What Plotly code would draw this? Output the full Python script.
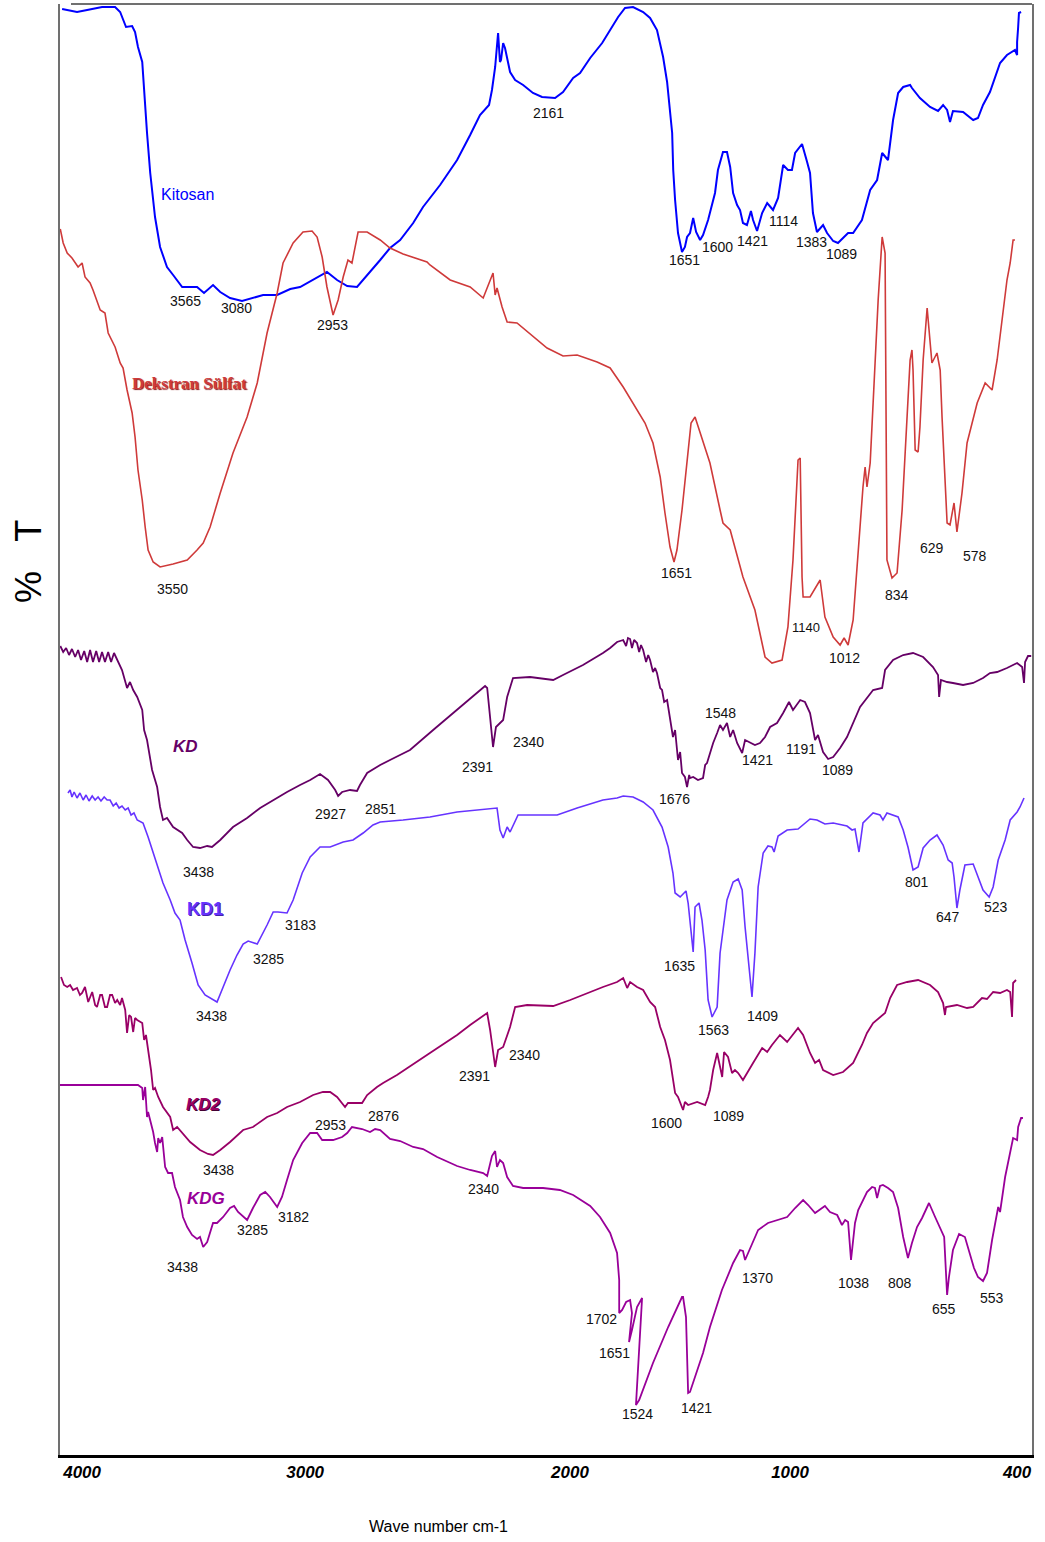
import plotly.graph_objects as go

# ---------------- data (wavenumber cm-1, %T offset units) ----------------
kitosan = [(4005,144.6),(3949,144.3),(3911,144.5),(3855,144.8),(3806,144.8),(3787,144.3),(3765,142.8),(3742,142.9),
    (3731,142.3),(3720,140.8),(3704,139.3),(3697,136.2),(3686,132.2),(3674,128.2),(3656,123.8),(3637,120.8),(3611,118.8),
    (3588,118.0),(3554,116.8),(3524,116.8),(3498,116.8),(3472,116.2),(3438,117.0),(3411,116.3),(3374,115.7),(3329,115.4),
    (3288,115.7),(3250,116.0),(3197,116.0),(3148,116.6),(3111,116.8),(3010,118.3),(2972,117.5),(2934,116.9),(2897,116.8),
    (2874,117.5),(2848,118.3),(2810,119.5),(2773,120.7),(2735,121.5),(2686,123.2),(2649,124.8),(2585,127.0),(2521,129.5),
    (2472,132.0),(2435,134.0),(2401,135.0),(2390,136.5),(2378,138.8),(2367,142.2),(2360,139.3),(2356,139.5),(2348,141.2),
    (2341,140.7),(2322,138.3),(2303,137.5),(2273,137.0),(2236,136.2),(2202,135.8),(2153,135.7),(2123,136.3),(2085,137.7),
    (2059,138.2),(2021,139.7),(1976,141.2),(1946,142.5),(1916,143.8),(1890,144.7),(1860,144.8),(1822,144.3),(1796,143.7),
    (1770,142.5),(1747,139.8),(1732,137.3),(1713,132.2),(1709,128.5),(1702,125.5),(1691,122.2),(1676,120.3),(1665,120.8),
    (1657,121.8),(1646,122.2),(1634,123.7),(1623,122.3),(1608,121.5),(1597,122.0),(1578,123.5),(1552,126.2),(1541,128.5),
    (1522,130.3),(1507,130.3),(1495,128.8),(1484,126.2),(1469,125.0),(1458,124.5),(1447,123.2),(1432,123.0),(1417,124.4),
    (1409,123.5),(1394,122.4),(1375,124.2),(1356,125.2),(1334,124.5),(1315,125.7),(1296,129.0),(1278,128.5),(1263,128.5),
    (1251,130.2),(1225,131.1),(1206,129.3),(1195,128.2),(1184,124.2),(1169,122.3),(1146,123.0),(1131,122.2),(1108,121.4),
    (1090,121.2),(1071,121.7),(1052,122.2),(1033,122.2),(1000,123.5),(969,126.5),(943,127.5),(924,130.2),(902,129.5),
    (883,133.5),(864,136.2),(845,136.8),(819,137.0),(812,136.7),(782,135.7),(744,134.8),(714,134.4),(695,135.0),(680,134.5),
    (669,133.3),(658,134.4),(620,134.3),(605,134.0),(582,133.5),(564,133.7),(545,135.0),(519,136.3),(500,137.8),(481,139.2),
    (455,140.0),(425,140.5),(417,140.0),(417,141.3),(413,142.8),(410,144.2),(402,144.3)]

dekstran = [(4012,122.6),(4001,121.2),(3986,120.2),(3968,119.7),(3945,118.8),(3930,119.2),(3919,117.8),(3900,117.2),
    (3889,116.5),(3862,114.5),(3844,114.2),(3832,112.2),(3806,110.8),(3787,109.2),(3776,108.7),(3761,106.5),(3742,104.2),
    (3731,101.8),(3720,98.5),(3704,95.5),(3693,92.8),(3682,90.5),(3663,89.3),(3637,88.8),(3588,89.1),(3535,89.5),(3498,90.5),
    (3475,91.2),(3449,92.8),(3411,96.2),(3363,100.2),(3310,103.8),(3272,107.2),(3254,109.5),(3235,112.2),(3197,116.2),
    (3175,119.2),(3137,121.2),(3100,122.3),(3066,122.4),(3047,121.8),(3028,119.8),(3010,116.8),(2987,114.0),(2968,115.5),
    (2949,117.8),(2931,119.5),(2916,119.2),(2893,122.3),(2859,122.3),(2810,121.5),(2773,120.7),(2724,120.1),(2634,119.3),
    (2623,119.0),(2547,117.5),(2472,116.8),(2423,115.7),(2386,118.2),(2378,116.0),(2371,116.7),(2352,114.8),(2333,113.3),
    (2296,113.2),(2221,111.5),(2183,110.7),(2123,109.9),(2070,110.0),(1995,109.3),(1946,108.7),(1897,106.8),(1845,104.5),
    (1815,103.2),(1785,101.2),(1758,97.8),(1740,94.2),(1721,90.8),(1706,89.3),(1695,90.5),(1676,94.5),(1657,99.5),
    (1642,103.2),(1627,103.8),(1597,101.2),(1571,99.2),(1533,94.5),(1522,93.2),(1495,92.5),(1447,87.8),(1402,84.5),
    (1364,79.8),(1338,79.2),(1300,79.5),(1278,82.8),(1259,89.5),(1240,99.5),(1232,99.7),(1225,87.8),(1221,85.8),(1195,85.8),
    (1157,87.5),(1139,83.8),(1108,81.8),(1082,81.0),(1067,81.7),(1052,81.0),(1033,83.5),(996,96.8),(988,98.8),(981,96.8),
    (969,99.2),(939,115.5),(924,121.8),(913,120.2),(906,89.5),(887,87.7),(868,88.2),(849,94.5),(819,109.5),(812,110.5),
    (808,108.5),(800,100.5),(789,100.3),(782,102.8),(770,109.5),(755,114.7),(737,109.2),(718,110.2),(706,108.5),(699,103.8),
    (680,93.2),(669,93.0),(654,95.2),(643,92.3),(624,96.2),(605,101.2),(567,105.2),(537,107.2),(511,106.5),(492,109.5),
    (455,117.5),(443,119.2),(432,121.5),(425,121.5)]

kd = [(4012,80.9),(4001,80.3),(3990,80.7),(3979,80.0),(3968,80.6),(3956,79.8),(3945,80.5),(3934,79.5),(3922,80.4),
    (3911,79.3),(3900,80.5),(3889,79.3),(3877,80.4),(3866,79.3),(3855,80.3),(3844,79.3),(3832,80.3),(3821,79.3),(3810,80.2),
    (3798,79.5),(3780,78.5),(3761,76.7),(3750,77.3),(3738,76.5),(3723,75.8),(3704,74.5),(3697,72.5),(3686,71.5),(3667,68.5),
    (3648,66.8),(3637,64.8),(3626,63.5),(3611,63.7),(3588,62.8),(3554,62.2),(3535,61.5),(3513,60.8),(3487,60.7),(3460,60.9),
    (3442,60.8),(3411,61.5),(3363,62.8),(3310,63.7),(3261,64.7),(3212,65.5),(3160,66.3),(3111,67.0),(3073,67.5),(3036,68.1),
    (3006,67.5),(2979,66.5),(2968,65.9),(2953,66.3),(2923,66.5),(2897,66.4),(2886,67.0),(2859,68.2),(2810,69.0),(2773,69.5),
    (2698,70.5),(2611,72.5),(2521,74.5),(2446,76.2),(2416,76.9),(2408,76.7),(2393,72.5),(2386,70.8),(2375,72.8),(2367,73.0),
    (2348,73.5),(2333,75.8),(2311,77.7),(2247,77.8),(2160,77.5),(2123,78.0),(2048,79.0),(1973,80.2),(1946,80.7),(1920,81.3),
    (1897,81.5),(1886,80.9),(1879,81.7),(1871,81.6),(1864,80.7),(1856,81.5),(1845,81.2),(1837,80.3),(1830,81.0),(1822,80.5),
    (1811,79.3),(1803,80.0),(1796,79.5),(1785,78.3),(1777,78.7),(1770,78.2),(1758,76.7),(1751,76.5),(1743,75.3),(1732,75.5),
    (1721,73.5),(1710,71.8),(1702,72.5),(1691,69.5),(1683,70.3),(1676,68.2),(1665,67.8),(1657,66.8),(1649,68.0),(1646,67.7),
    (1634,67.8),(1616,67.5),(1597,67.7),(1589,69.0),(1582,69.2),(1571,70.2),(1559,71.2),(1544,72.2),(1533,73.0),(1522,72.5),
    (1507,73.2),(1495,71.8),(1484,72.5),(1469,71.2),(1450,70.2),(1439,71.5),(1420,71.2),(1402,71.0),(1383,71.2),(1364,71.8),
    (1345,72.8),(1319,73.2),(1296,74.2),(1274,75.3),(1259,74.5),(1232,75.5),(1214,75.3),(1195,74.2),(1176,71.5),(1165,72.0),
    (1146,70.3),(1127,69.6),(1108,69.8),(1082,70.7),(1056,71.8),(1033,73.2),(1007,74.8),(958,76.5),(924,76.7),(913,78.5),
    (883,79.5),(845,80.0),(808,80.2),(770,79.8),(733,78.8),(714,78.0),(710,75.8),(703,77.5),(680,77.3),(658,77.2),(620,77.0),
    (582,77.2),(545,77.7),(519,78.2),(492,78.3),(455,78.7),(417,79.2),(398,78.8),(391,77.2),(387,79.3),(376,79.9),(364,79.9)]

kd1 = [(3983,66.2),(3975,66.5),(3968,65.8),(3960,66.3),(3949,65.7),(3938,66.2),(3926,65.5),(3915,66.0),(3904,65.4),
    (3892,65.9),(3881,65.5),(3870,65.8),(3859,65.4),(3847,65.8),(3836,65.5),(3825,65.5),(3813,64.9),(3802,65.2),(3791,64.7),
    (3780,64.9),(3768,64.5),(3757,64.7),(3746,64.0),(3735,64.2),(3723,63.5),(3701,63.2),(3682,61.8),(3663,60.2),(3644,58.5),
    (3626,57.2),(3599,55.5),(3581,54.2),(3562,53.5),(3543,51.5),(3517,49.2),(3494,47.0),(3468,46.0),(3423,45.3),(3400,46.8),
    (3374,48.5),(3348,50.0),(3325,51.1),(3306,51.4),(3272,51.1),(3235,53.0),(3212,54.3),(3194,54.3),(3160,54.2),(3137,55.5),
    (3103,58.2),(3073,59.8),(3036,60.8),(2998,60.8),(2949,61.3),(2912,61.5),(2874,62.2),(2837,63.0),(2810,63.3),(2724,63.5),
    (2623,63.8),(2521,64.3),(2435,64.5),(2371,64.7),(2360,62.5),(2348,61.7),(2333,62.8),(2322,62.3),(2292,64.0),(2247,64.0),
    (2145,64.0),(2070,64.7),(1973,65.5),(1920,65.7),(1897,65.9),(1860,65.8),(1822,65.3),(1785,64.5),(1751,62.8),(1728,60.8),
    (1710,58.2),(1702,56.2),(1683,55.8),(1661,56.4),(1653,55.2),(1634,50.3),(1627,54.8),(1612,55.2),(1601,53.5),(1589,50.5),
    (1578,45.5),(1563,43.8),(1544,44.8),(1533,50.2),(1507,55.5),(1484,57.3),(1465,57.6),(1450,56.5),(1439,52.8),(1413,45.8),
    (1402,50.2),(1390,56.8),(1371,60.2),(1353,60.9),(1338,60.8),(1330,60.3),(1315,61.9),(1281,62.5),(1240,62.6),(1195,63.6),
    (1169,63.5),(1139,63.1),(1108,63.2),(1056,62.9),(1037,62.5),(1026,62.6),(1011,60.3),(996,63.2),(958,64.2),(932,64.0),
    (921,63.5),(906,64.2),(864,63.8),(845,62.5),(827,60.8),(808,58.5),(789,58.8),(770,60.7),(744,61.5),(718,62.0),(695,61.0),
    (676,59.5),(661,59.2),(654,57.8),(643,54.7),(632,56.5),(613,59.0),(582,59.1),(564,57.8),(545,56.5),(522,55.8),(507,56.8),
    (488,59.5),(473,60.8),(462,61.5),(443,63.5),(417,64.3),(406,64.8),(395,65.5),(391,65.7)]

kd2 = [(4009,47.8),(3998,47.0),(3986,46.8),(3975,47.0),(3964,46.5),(3949,46.7),(3938,46.0),(3930,46.2),(3919,46.8),
    (3907,45.3),(3892,46.3),(3881,45.0),(3874,44.8),(3862,46.0),(3855,46.0),(3844,44.8),(3836,44.8),(3825,46.0),(3817,46.0),
    (3806,45.2),(3798,45.5),(3787,45.0),(3780,45.7),(3768,44.5),(3761,42.2),(3753,44.0),(3746,43.8),(3738,42.3),(3731,43.7),
    (3723,43.5),(3704,43.2),(3697,41.5),(3690,42.0),(3682,40.7),(3671,38.5),(3663,36.5),(3656,36.7),(3644,35.8),(3626,34.8),
    (3599,33.8),(3588,32.5),(3573,32.8),(3554,32.2),(3524,31.3),(3487,30.5),(3457,30.1),(3438,30.0),(3411,30.5),(3374,31.3),
    (3325,32.5),(3288,32.8),(3235,33.8),(3197,34.2),(3160,34.8),(3111,35.3),(3062,36.0),(3025,36.3),(2998,36.3),(2972,35.8),
    (2953,35.2),(2942,34.8),(2931,35.2),(2878,35.2),(2859,36.0),(2822,36.8),(2799,37.2),(2747,38.0),(2623,40.2),(2521,42.0),
    (2472,43.0),(2408,44.2),(2397,42.5),(2378,38.8),(2367,40.5),(2348,40.8),(2322,42.8),(2303,44.8),(2258,45.0),(2160,44.9),
    (2096,45.5),(2033,46.2),(1973,46.8),(1920,47.3),(1897,47.7),(1882,46.7),(1871,47.3),(1845,46.8),(1822,46.5),(1796,45.3),
    (1777,44.8),(1758,42.8),(1740,41.5),(1721,39.5),(1710,37.5),(1702,36.2),(1691,35.8),(1672,34.5),(1665,35.3),(1653,35.0),
    (1619,35.3),(1589,35.0),(1578,35.8),(1571,36.5),(1559,38.5),(1544,40.2),(1525,37.8),(1518,40.3),(1503,39.8),(1488,38.2),
    (1477,38.5),(1465,38.2),(1447,37.5),(1432,38.2),(1409,39.2),(1375,40.7),(1356,40.3),(1338,41.0),(1308,42.0),(1281,41.3),
    (1240,42.7),(1221,42.0),(1195,40.2),(1176,39.2),(1161,39.5),(1146,38.5),(1108,38.0),(1071,38.3),(1033,39.2),(1000,41.0),
    (981,42.2),(958,43.2),(924,44.0),(913,44.2),(894,45.7),(868,47.0),(830,47.3),(789,47.5),(744,47.0),(714,46.3),(695,45.2),
    (688,44.0),(684,44.8),(643,45.0),(605,44.7),(582,44.8),(549,45.7),(530,45.6),(507,46.3),(481,46.2),(455,46.5),(443,46.3),
    (436,43.8),(432,47.2),(421,47.5)]

kdg = [(4013,37.0),(3720,37.0),(3704,36.7),(3701,35.5),(3693,36.8),(3686,33.8),(3682,34.3),(3667,32.7),(3663,32.3),
    (3656,31.2),(3648,30.3),(3644,31.7),(3637,31.2),(3629,31.8),(3618,28.8),(3607,28.2),(3592,28.2),(3581,26.8),(3562,25.5),
    (3551,23.8),(3535,22.8),(3517,22.0),(3498,21.6),(3487,21.8),(3475,20.8),(3460,21.3),(3449,22.2),(3438,23.2),(3423,23.2),
    (3400,23.8),(3374,24.7),(3359,24.9),(3344,24.3),(3310,23.5),(3288,24.7),(3261,26.0),(3242,26.3),(3224,25.8),(3197,24.8),
    (3179,25.8),(3160,27.5),(3137,29.5),(3103,31.2),(3073,32.2),(3047,32.2),(3028,31.5),(3006,31.5),(2987,31.5),(2953,31.8),
    (2934,32.2),(2916,32.8),(2878,32.6),(2848,32.3),(2829,32.6),(2810,32.5),(2773,31.6),(2735,31.4),(2686,30.8),(2649,30.6),
    (2596,29.8),(2521,28.9),(2472,28.5),(2423,28.2),(2408,27.9),(2390,29.9),(2378,30.4),(2371,28.8),(2360,29.5),(2348,29.2),
    (2333,27.8),(2311,26.9),(2273,26.7),(2198,26.7),(2135,26.5),(2085,26.0),(2021,24.9),(1984,23.8),(1946,22.2),(1920,20.2),
    (1912,17.5),(1912,14.2),(1901,14.5),(1886,15.3),(1871,15.5),(1864,14.2),(1875,11.3),(1864,12.5),(1845,14.8),(1826,15.7),
    (1849,5.0),(1837,5.5),(1785,9.2),(1728,12.8),(1676,15.8),(1672,15.8),(1661,13.8),(1653,6.2),(1646,6.3),(1597,10.2),
    (1571,12.8),(1526,16.5),(1484,19.2),(1458,20.5),(1447,20.4),(1439,19.5),(1420,20.7),(1390,22.5),(1353,23.2),(1308,23.6),
    (1281,23.8),(1251,24.7),(1221,25.5),(1202,25.0),(1176,24.2),(1139,24.9),(1120,24.3),(1093,24.0),(1075,23.0),(1063,23.5),
    (1052,23.3),(1041,19.5),(1026,23.2),(1014,24.5),(981,26.3),(962,26.8),(951,26.7),(943,25.7),(932,26.9),(921,27.0),
    (902,26.7),(883,26.3),(864,24.7),(845,21.8),(827,19.7),(812,21.2),(793,22.8),(774,23.7),(748,25.2),(725,23.8),(695,22.0),
    (691,21.8),(680,16.0),(673,17.8),(658,20.5),(635,22.1),(613,21.8),(594,20.2),(579,18.7),(564,17.8),(545,17.4),(530,18.2),
    (511,21.5),(488,24.8),(481,24.3),(462,27.8),(443,30.5),(432,31.7),(417,31.5),(413,32.8),(402,33.7),(395,33.7)]

series_names = ["Kitosan", "Dekstran Sülfat", "KD", "KD1", "KD2", "KDG"]

# peak labels: (text, wavenumber position, %T position)
peak_labels = {
    "Kitosan": [("3565",3543,115.4),("3080",3348,114.7),("2953",2991,113.0),("2161",2176,134.2),("1651",1668,119.5),
                ("1600",1544,120.8),("1421",1413,121.4),("1114",1296,123.4),("1383",1191,121.3),("1089",1075,120.1)],
    "Dekstran Sülfat": [("3550",3592,86.6),("1651",1695,88.2),("1140",1210,82.8),("1012",1067,79.7),("834",868,86.0),
                ("629",737,90.7),("578",575,89.9)],
    "KD": [("3438",3494,58.3),("2927",2997,64.1),("2851",2810,64.6),("2391",2446,68.8),("2340",2251,71.3),("1676",1706,65.6),
           ("1548",1533,74.2),("1421",1394,69.5),("1191",1229,70.6),("1089",1090,68.5)],
    "KD1": [("3438",3445,43.9),("3285",3231,49.6),("3183",3111,53.0),("1635",1687,48.9),("1563",1556,42.5),("1409",1375,43.9),
            ("801",793,57.3),("647",677,53.8),("523",496,54.8)],
    "KD2": [("3438",3419,28.5),("2953",2998,33.0),("2876",2799,33.9),("2391",2457,37.9),("2340",2269,40.0),("1600",1736,33.2),
            ("1089",1503,33.9)],
    "KDG": [("3438",3554,18.8),("3285",3288,22.5),("3182",3134,23.8),("2340",2420,26.6),("1702",1980,13.6),("1651",1931,10.2),
            ("1524",1845,4.1),("1421",1620,4.7),("1370",1394,17.7),("1038",1030,17.2),("808",857,17.2),("655",692,14.6),
            ("553",511,15.7)],
}
name_label_pos = {"Kitosan": (3535,126.1), "Dekstran Sülfat": (3528,107.2), "KD": (3543,70.9),
                  "KD1": (3468,54.6), "KD2": (3475,35.1), "KDG": (3464,25.7)}

tick_labels = ["4000", "3000", "2000", "1000", "400"]
tick_positions = [3930, 3092, 2097, 1270, 417]   # where the reference prints them

# ---------------- styles ----------------
colors = {"Kitosan": "#0000ff", "Dekstran Sülfat": "#cf3a3a", "KD": "#660066",
          "KD1": "#6633ff", "KD2": "#990066", "KDG": "#990099"}
widths = {"Kitosan": 2.0, "Dekstran Sülfat": 1.6, "KD": 1.8, "KD1": 1.6, "KD2": 1.8, "KDG": 1.8}
name_fonts = {
    "Kitosan": dict(family="Liberation Sans, Arial", size=16, color="#0000ff"),
    "Dekstran Sülfat": dict(family="Liberation Serif, Times New Roman", size=17, color="#cf3a3a", weight="bold",
                            shadow="1px 1px 1px #8a1a1a"),
    "KD": dict(family="Liberation Sans, Arial", size=17, color="#660066", weight="bold", style="italic"),
    "KD1": dict(family="Liberation Sans, Arial", size=18, color="#6633ff", weight="bold", shadow="1px 1px 0px #4422aa"),
    "KD2": dict(family="Liberation Sans, Arial", size=17, color="#990066", weight="bold", style="italic",
                shadow="1px 1px 0px #440033"),
    "KDG": dict(family="Liberation Sans, Arial", size=17, color="#990099", weight="bold", style="italic"),
}

data = {"Kitosan": kitosan, "Dekstran Sülfat": dekstran, "KD": kd, "KD1": kd1, "KD2": kd2, "KDG": kdg}

fig = go.Figure()
for name in series_names:
    pts = data[name]
    fig.add_trace(go.Scatter(x=[p[0] for p in pts], y=[p[1] for p in pts], mode="lines", name=name,
                             line=dict(color=colors[name], width=widths[name]), showlegend=False,
                             hoverinfo="skip"))

annotations = []
for name in series_names:
    for txt, xw, yv in peak_labels[name]:
        annotations.append(dict(x=xw, y=yv, xref="x", yref="y", text=txt, showarrow=False,
                                font=dict(family="Liberation Sans, Arial", size=13 if txt == "1140" and name != "KD" else 14,
                                          color="#111111")))
    nx, ny = name_label_pos[name]
    annotations.append(dict(x=nx, y=ny, xref="x", yref="y", text=name, showarrow=False, font=name_fonts[name]))

annotations.append(dict(x=(438 - 60) / 972, y=-(1526 - 1455) / 1451, xref="paper", yref="paper",
                        text="Wave number cm-1", showarrow=False, yanchor="middle",
                        font=dict(family="Liberation Sans, Arial", size=16, color="#000000")))
annotations.append(dict(x=-(60 - 28) / 972, y=(1455 - 562) / 1451, xref="paper", yref="paper",
                        text="%   T", showarrow=False, textangle=-90, xanchor="center", yanchor="middle",
                        font=dict(family="Liberation Sans, Arial", size=36, color="#000000")))

fig.update_layout(
    width=1045, height=1542,
    margin=dict(l=60, r=13, t=4, b=87),
    paper_bgcolor="white", plot_bgcolor="white",
    annotations=annotations,
    shapes=[dict(type="line", xref="paper", yref="paper", x0=(71 - 60) / 972, x1=1, y0=1, y1=1,
                 line=dict(color="#707070", width=2))],
)
fig.update_xaxes(range=[4013, 361], showgrid=False, zeroline=False, showline=True, linecolor="#000000", linewidth=3,
                 tickmode="array", tickvals=tick_positions, ticktext=tick_labels, ticks="",
                 tickfont=dict(family="Liberation Sans, Arial", size=17, color="#000000", weight="bold", style="italic"))
fig.update_yaxes(range=[0, 145.1], showgrid=False, zeroline=False, showline=True, linecolor="#707070", linewidth=2,
                 mirror=True, showticklabels=False, ticks="")

fig.write_html("out.html", config={"displayModeBar": False},
               post_script="document.body.style.margin='0';document.body.style.overflow='hidden';")
